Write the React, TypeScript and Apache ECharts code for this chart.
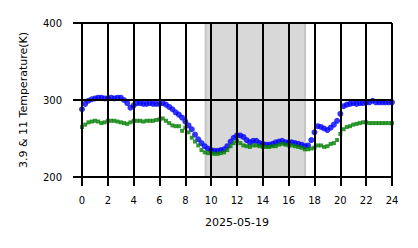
import React, { useEffect, useRef } from "react";
import * as echarts from "echarts";

const STEP_HOURS = 0.25;
const xTicks = [0, 2, 4, 6, 8, 10, 12, 14, 16, 18, 20, 22, 24];
const yTicks = [200, 300, 400];
const dateLabel = "2025-05-19";
const yLabel = "3.9 & 11 Temperature(K)";
const nightBand = [9.57, 17.27];

const temp39 = [
  288, 295, 299, 301, 302, 303, 303, 302, 302, 303, 302, 303,
  303, 300, 296, 290, 293, 296, 296, 295, 295, 296, 295, 295,
  295, 296, 294, 291, 288, 284, 281, 277, 272, 267, 262, 255,
  249, 244, 240, 237, 235, 234, 234, 235, 236, 240, 246, 251,
  254, 254, 252, 248, 245, 247, 247, 244, 243, 242, 242, 243,
  245, 246, 247, 245, 245, 245, 244, 243, 242, 240, 241, 248,
  258, 266, 265, 263, 261, 264, 268, 273, 282, 292, 294, 295,
  296, 295, 296, 296, 297, 297, 299, 297, 297, 297, 297, 297,
  297,
];

const temp11 = [
  265, 268, 271, 272, 273, 272, 270, 271, 273, 273, 273, 272,
  271, 270, 269, 271, 273, 273, 273, 272, 273, 273, 273, 274,
  275, 276, 273, 270, 267, 266, 266, 260, 264, 258, 251, 246,
  241, 235, 232, 231, 231, 230, 230, 231, 232, 235, 240, 244,
  247, 244, 241, 240, 239, 241, 241, 240, 239, 239, 239, 240,
  240, 242, 243, 242, 241, 241, 240, 239, 238, 236, 236, 237,
  238, 241, 241, 239, 240, 243, 244, 248, 256, 262, 265, 266,
  268, 269, 270, 271, 271, 270, 270, 270, 270, 270, 270, 270,
  270,
];

export default function App() {
  const ref = useRef<HTMLDivElement>(null);
  useEffect(() => {
    if (!ref.current) return;
    const chart = echarts.init(ref.current, null, { renderer: "svg" });
    const font = "DejaVu Sans";
    const toPairs = (arr: number[]) => arr.map((v, i) => [i * STEP_HOURS, v]);
    chart.setOption({
      animation: false,
      backgroundColor: "#ffffff",
      grid: { left: 82, right: 26, top: 23, bottom: 71 },
      xAxis: {
        type: "value",
        z: 10,
        min: xTicks[0],
        max: xTicks[xTicks.length - 1],
        interval: 2,
        name: dateLabel,
        nameLocation: "middle",
        nameGap: 40,
        nameTextStyle: { fontFamily: font, fontSize: 11, color: "#000" },
        axisLine: { show: true, lineStyle: { color: "#000", width: 2 } },
        axisTick: { show: true, length: 9, lineStyle: { color: "#000", width: 2 } },
        axisLabel: { fontFamily: font, fontSize: 10, color: "#000", margin: 18 },
        splitLine: { show: true, lineStyle: { color: "#000", width: 2 } },
      },
      yAxis: {
        type: "value",
        z: 10,
        min: yTicks[0],
        max: yTicks[yTicks.length - 1],
        interval: 100,
        axisLine: { show: true, lineStyle: { color: "#000", width: 2 } },
        axisTick: { show: true, length: 9, lineStyle: { color: "#000", width: 2 } },
        axisLabel: { fontFamily: font, fontSize: 10, color: "#000", margin: 20 },
        splitLine: { show: true, lineStyle: { color: "#000", width: 2 } },
      },
      graphic: [
        {
          type: "text",
          x: 23,
          y: 100,
          rotation: Math.PI / 2,
          style: {
            text: yLabel,
            fontFamily: font,
            fontSize: 11,
            fill: "#000",
            align: "center",
            verticalAlign: "middle",
          },
        },
      ],
      series: [
        {
          type: "scatter",
          data: [],
          z: 1,
          silent: true,
          markArea: {
            silent: true,
            itemStyle: { color: "#d8d8d8", borderColor: "#c6c6c6", borderWidth: 2 },
            data: [[{ xAxis: nightBand[0] }, { xAxis: nightBand[1] }]],
          },
        },
        {
          type: "scatter",
          symbol: "circle",
          symbolSize: 6,
          itemStyle: { color: "#0000ff" },
          data: toPairs(temp39),
          z: 3,
        },
        {
          type: "scatter",
          symbol: "rect",
          symbolSize: 4,
          itemStyle: { color: "#008000" },
          data: toPairs(temp11),
          z: 4,
        },
      ],
    });
    return () => chart.dispose();
  }, []);
  return <div ref={ref} style={{ width: 418, height: 248, position: "absolute", left: 0, top: 0 }} />;
}
